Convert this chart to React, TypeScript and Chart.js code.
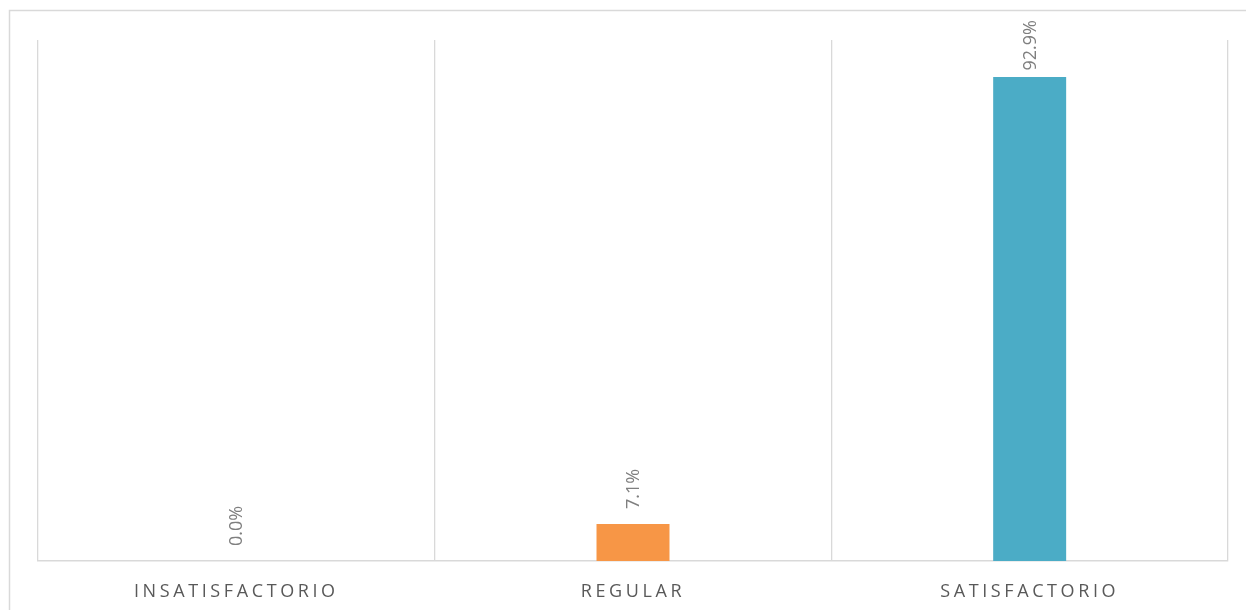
import React, { useEffect, useRef } from "react";
import { Chart, registerables } from "chart.js";

Chart.register(...registerables);

const categories = ["INSATISFACTORIO", "REGULAR", "SATISFACTORIO"];
const values = [0.0, 7.1, 92.9];
const barColors = ["#4F81BD", "#F79646", "#4BACC6"];

const FONT = "'Open Sans', 'Noto Sans', sans-serif";

const frameAndSpacing = {
  id: "frameAndSpacing",
  beforeDraw(chart: any) {
    const ctx = chart.ctx;
    ctx.save();
    ctx.strokeStyle = "#d9d9d9";
    ctx.lineWidth = 1.5;
    ctx.beginPath();
    ctx.moveTo(9.5, 611);
    ctx.lineTo(9.5, 10.5);
    ctx.lineTo(1250, 10.5);
    ctx.stroke();
    ctx.restore();
    (ctx as any).letterSpacing = "3.6px";
  },
  afterDraw(chart: any) {
    (chart.ctx as any).letterSpacing = "0px";
  },
};

const dataLabels = {
  id: "dataLabels",
  afterDatasetsDraw(chart: any) {
    const ctx = chart.ctx;
    const meta = chart.getDatasetMeta(0);
    ctx.save();
    (ctx as any).letterSpacing = "0px";
    ctx.font = `18px ${FONT}`;
    ctx.fillStyle = "#7f7f7f";
    ctx.textAlign = "left";
    ctx.textBaseline = "middle";
    meta.data.forEach((bar: any, i: number) => {
      const text = values[i].toFixed(1) + "%";
      const w = ctx.measureText(text).width;
      let start = bar.y - 15;
      if (start - w < 20) start = 20 + w;
      ctx.save();
      ctx.translate(bar.x + 1, start);
      ctx.rotate(-Math.PI / 2);
      ctx.fillText(text, 0, 0);
      ctx.restore();
    });
    ctx.restore();
  },
};

export default function App() {
  const ref = useRef<HTMLCanvasElement | null>(null);
  useEffect(() => {
    if (!ref.current) return;
    const chart = new Chart(ref.current, {
      type: "bar",
      data: {
        labels: categories,
        datasets: [
          {
            data: values,
            backgroundColor: barColors,
            borderWidth: 0,
            categoryPercentage: 1,
            barPercentage: 0.184,
          },
        ],
      },
      options: {
        animation: false,
        responsive: false,
        maintainAspectRatio: false,
        devicePixelRatio: 1,
        layout: { padding: { left: 38, right: 18, top: 40, bottom: 0 } },
        plugins: {
          legend: { display: false },
          tooltip: { enabled: false },
          title: { display: false },
        },
        scales: {
          x: {
            offset: true,
            grid: {
              display: true,
              offset: true,
              color: "#d9d9d9",
              lineWidth: 1.3,
              drawTicks: false,
            },
            border: { display: true, color: "#d9d9d9", width: 1.5 },
            ticks: {
              color: "#595959",
              font: { family: FONT, size: 18 },
              padding: 20,
              maxRotation: 0,
              autoSkip: false,
            },
            afterFit: (scale: any) => {
              scale.height = 49;
            },
          },
          y: {
            display: false,
            min: 0,
            max: 100,
          },
        },
      },
      plugins: [frameAndSpacing, dataLabels],
    });
    return () => chart.destroy();
  }, []);
  return (
    <div style={{ position: "fixed", left: 0, top: 0, width: 1246, height: 610, background: "#fff" }}>
      <canvas ref={ref} width={1246} height={610} style={{ display: "block", width: 1246, height: 610 }} />
    </div>
  );
}
